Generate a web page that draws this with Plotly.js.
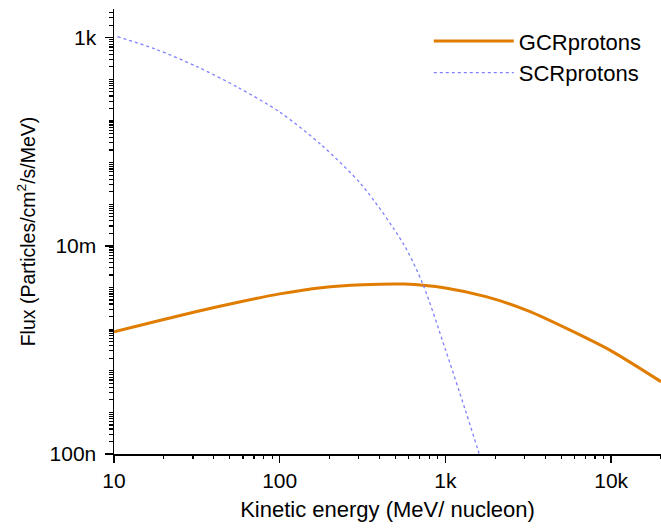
<!DOCTYPE html>
<html>
<head>
<meta charset="utf-8">
<script src="https://cdn.plot.ly/plotly-3.0.1.min.js"></script>
<style>
  html, body { margin: 0; padding: 0; background: #fff; }
  #chart { width: 661px; height: 528px; }
</style>
</head>
<body>
<div id="chart"></div>
<script>
// ---- data ----
const energyGCR = [10, 17.8, 31.6, 56.2, 100, 178, 316, 562, 1000, 1780, 3160, 5620, 10000, 20000];
const fluxGCR   = [8.57e-5, 1.52e-4, 2.65e-4, 4.43e-4, 7.02e-4, 9.89e-4, 1.167e-3, 1.208e-3, 9.77e-4, 5.94e-4, 2.74e-4, 9.57e-5, 3.01e-5, 5.47e-6];

const energySCR = [10.5, 17.8, 31.6, 56.2, 100, 178, 316, 562, 730, 1000, 1310, 1570, 1780];
const fluxSCR   = [1057, 532, 203, 63.5, 16.4, 2.68, 0.277, 0.0106, 1.22e-3, 3.25e-5, 1.23e-6, 1.27e-7, 2.65e-8];

const seriesNames = ['GCRprotons', 'SCRprotons'];

const xTickVals = [10, 100, 1000, 10000];
const xTickText = ['10', '100', '1k', '10k'];
const yTickVals = [1e-7, 1e-2, 1e3];
const yTickText = ['100n', '10m', '1k'];

// minor tick positions (2..9 per decade, plus unlabeled decades)
function minorTicks(lo, hi, major) {
  const out = [];
  for (let d = lo; d <= hi; d++) {
    for (let m = 1; m <= 9; m++) {
      const v = m * Math.pow(10, d);
      if (major.some(t => Math.abs(t - v) / v < 1e-9)) continue;
      out.push(v);
    }
  }
  return out;
}
const xMinor = minorTicks(1, 4, xTickVals);
const yMinor = minorTicks(-7, 3, yTickVals);

const FONT = 'Liberation Sans, Arial, sans-serif';
const xRange = [1, Math.log10(20000)];
const yRange = [-7, 3.69];

const traces = [
  { x: energyGCR, y: fluxGCR, name: seriesNames[0], mode: 'lines',
    line: { color: '#E07D00', width: 3, shape: 'spline', smoothing: 0.8 } },
  { x: energySCR, y: fluxSCR, name: seriesNames[1], mode: 'lines',
    line: { color: '#7F7FFF', width: 1.3, dash: 'dot', shape: 'spline', smoothing: 0.8 } }
];

const axisCommon = { showgrid: false, zeroline: false, showline: true, linecolor: '#000', linewidth: 1.5,
  tickcolor: '#000', tickwidth: 1.3 };

const layout = {
  width: 661, height: 528,
  margin: { l: 114, r: 0, t: 9, b: 74 },
  paper_bgcolor: '#fff', plot_bgcolor: '#fff',
  font: { family: FONT, size: 21, color: '#000' },
  showlegend: true,
  legend: { x: 0.5755, y: 0.975, xanchor: 'left', yanchor: 'top', bgcolor: 'rgba(0,0,0,0)',
    font: { family: FONT, size: 22, color: '#000' }, itemwidth: 80, tracegroupgap: 0 },
  xaxis: Object.assign({}, axisCommon, {
    type: 'log', range: xRange, tickmode: 'array', tickvals: xTickVals, ticktext: xTickText,
    ticks: 'outside', ticklen: 7,
    minor: { tickmode: 'array', tickvals: xMinor, ticks: 'outside', ticklen: 3.5, tickcolor: '#000', tickwidth: 1.2 },
    title: { text: 'Kinetic energy (MeV/ nucleon)', font: { family: FONT, size: 22 }, standoff: 11 }
  }),
  xaxis2: Object.assign({}, axisCommon, {
    type: 'log', range: xRange, overlaying: 'x', side: 'top', anchor: 'y',
    tickmode: 'array', tickvals: xTickVals, showticklabels: false,
    ticks: 'inside', ticklen: 7,
    minor: { tickmode: 'array', tickvals: xMinor, ticks: 'inside', ticklen: 3.5, tickcolor: '#000', tickwidth: 1.2 }
  }),
  yaxis: Object.assign({}, axisCommon, {
    type: 'log', range: yRange, tickmode: 'array', tickvals: yTickVals, ticktext: yTickText,
    ticks: 'outside', ticklen: 8, ticklabelstandoff: 4,
    minor: { tickmode: 'array', tickvals: yMinor, ticks: 'outside', ticklen: 4, tickcolor: '#000', tickwidth: 1.2 },
    title: { text: 'Flux (Particles/cm<sup>2</sup>/s/MeV)', font: { family: FONT, size: 19.5 }, standoff: 9 }
  })
};

Plotly.newPlot('chart', traces, layout, { displayModeBar: false, staticPlot: true });
</script>
</body>
</html>
